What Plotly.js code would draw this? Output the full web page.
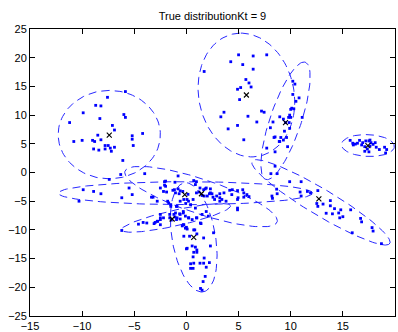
<!DOCTYPE html>
<html>
<head>
<meta charset="utf-8">
<script src="https://cdn.plot.ly/plotly-3.0.1.min.js"></script>
<style>html,body{margin:0;padding:0;background:#fff;}#chart{width:398px;height:332px;}</style>
</head>
<body>
<div id="chart"></div>
<script>
// ---- data points by cluster ----
const ax = [-5.85,-7.57,-8.7,-8.2,-9.9,-6.0,-5.85,-8.3,-11.2,-7.1,-6.9,-4.2,-8.5,-5.2,-5.2,-8.2,-9.0,-10.8,-10.0,-8.8,-5.1,-7.8,-7.5,-7.3,-6.9,-7.8,-8.9,-8.4,-7.2,-6.1];
const ay = [14.1,13.1,11.7,11.6,10.4,10.1,9.6,9.4,8.7,8.2,7.4,6.8,6.5,6.4,5.8,5.7,5.6,5.4,5.6,5.4,4.7,4.7,4.7,4.25,4.4,4.1,4.1,3.9,3.7,2.1];

const bx = [5.0,6.4,7.7,4.25,5.4,6.4,1.7,5.7,6.0,6.2,5.2,4.9,5.1,3.6,3.3,5.9,7.2,7.45,6.75,4.9,4.0,5.5];
const by = [20.5,20.3,20.5,19.3,18.8,18.0,17.6,16.2,15.6,14.9,14.8,14.5,12.7,10.5,9.7,9.8,10.7,10.5,8.8,8.2,7.6,5.7];

const cxs = [10.2,10.4,10.2,10.8,10.5,10.1,10.0,10.3,9.9,9.8,10.0,11.1,8.95,9.3,8.3,9.85,9.5,9.9,8.05,9.4,8.4,9.05,9.6,9.3,8.95,9.7,8.5,8.9,7.7,8.5,8.5,8.1,8.7];
const cys = [15.9,15.4,13.6,13.0,12.4,11.2,11.0,11.1,10.0,9.6,9.6,9.6,9.7,9.3,8.8,8.7,8.7,7.7,7.8,7.2,6.1,6.1,6.1,5.65,5.4,4.5,6.2,5.4,4.25,3.6,1.1,-0.2,-0.2];

const dxs = [15.7,15.95,16.2,16.4,16.6,16.9,17.2,17.5,17.7,17.6,18.1,17.1,17.35,17.6,17.1,17.5,18.2,18.5,19.0,19.2,19.1,16.0,16.8,17.9];
const dys = [5.6,5.1,4.95,5.1,5.6,5.2,5.5,5.5,5.2,5.65,5.2,4.5,4.1,4.6,3.7,3.6,4.4,4.0,4.4,4.0,3.4,4.8,4.8,4.9];

const exs = [9.9,11.0,11.6,11.9,12.6,10.9,11.0,12.5,12.6,13.1,13.8,13.8,14.2,14.8,13.4,14.0,14.6,15.0,14.7,15.75,16.7,16.8,15.9,17.8,17.9,18.7,8.7,8.25,8.65];
const eys = [-1.6,-1.6,-3.3,-3.55,-3.15,-3.4,-4.1,-5.4,-5.9,-5.5,-4.9,-5.8,-6.3,-6.5,-7.1,-7.2,-7.05,-7.7,-7.9,-6.5,-8.0,-8.6,-10.5,-9.6,-10.2,-12.4,-3.7,-4.5,-2.9];

const fxs = [-9.9,-8.9,-8.2,-5.5,-5.2,-6.2,-10.3,-2.5,-2.2,-1.9,-1.3,-1.05,-0.7,-0.35,-0.8,0.15,-3.35,-3.2,-2.8,-1.7,-1.5,-0.9,-0.07,-2.0,-2.0,-1.15,-0.6,-1.8,-1.5,-0.96,-0.25,0.2,0.06,-4.0,-6.3,-7.4,-0.8,-2.1,-2.1,-1.1,-0.6];
const fys = [-3.0,-3.3,-3.7,-2.7,-3.85,-4.4,-5.0,-2.7,-3.3,-3.4,-3.1,-3.55,-3.7,-3.3,-2.85,-3.8,-4.3,-4.3,-5.0,-5.3,-5.6,-5.9,-5.4,-1.5,-2.4,-3.0,-5.0,-5.0,-5.9,-5.9,-4.7,-5.0,-4.7,-0.2,-0.35,-1.2,-0.6,-1.6,-2.2,-1.7,-3.2];

const gxs = [0.7,0.96,1.3,1.65,1.9,2.3,0.96,1.2,1.5,1.7,2.0,2.2,2.45,2.55,2.7,3.2,3.6,3.2,3.2,3.8,4.15,4.35,4.9,5.4,4.95,5.5,6.0,4.9,0.64,0.4,0.86,0.86,1.8,2.3,2.9,3.4,4.4,4.9,5.5,5.8,8.2,4.9];
const gys = [-1.4,-1.6,-2.7,-3.0,-2.7,-2.85,-3.55,-3.4,-4.0,-4.1,-4.1,-3.7,-3.7,-4.3,-4.7,-3.7,-3.55,-4.4,-5.0,-5.0,-3.1,-3.85,-3.15,-3.0,-4.4,-4.3,-4.2,-6.2,-4.7,-5.6,-6.2,-2.1,-2.85,-3.55,-4.1,-4.7,-3.0,-4.7,-3.55,-3.85,-4.1,-6.5];

const hxs = [-1.6,-1.6,-1.1,-0.95,-1.45,-0.6,-1.05,-0.3,-0.1,0.2,-2.5,-2.8,-3.1,-3.8,-4.15,-4.6,-6.2,-2.5,-2.2,-2.5,-0.9,-0.6,0.22,0.55,0.96,1.5,1.9,2.1,-2.5,-3.0,-2.75,-1.2,-0.65,-0.3];
const hys = [-7.3,-7.9,-7.75,-8.2,-8.3,-8.1,-7.05,-7.05,-7.6,-7.9,-7.9,-8.5,-8.9,-8.8,-8.7,-9.0,-10.1,-7.3,-7.9,-8.2,-7.9,-7.3,-7.9,-8.2,-7.9,-7.3,-6.8,-7.6,-9.1,-8.7,-8.5,-7.3,-7.2,-6.8];

const ixs = [-0.4,-0.1,-0.25,0.0,0.7,1.34,1.4,1.0,-0.3,0.07,-0.25,1.0,1.65,0.3,2.6,0.55,0.0,0.86,1.0,2.3,0.7,1.0,0.64,1.7,1.3,0.4,2.2,0.64,1.9,1.6,1.8,1.35,1.5,0.8,0.07,0.7,0.4,1.65];
const iys = [-9.3,-9.7,-9.1,-9.55,-10.0,-8.8,-8.9,-7.9,-9.1,-9.85,-11.1,-10.7,-11.4,-11.1,-10.5,-12.8,-13.3,-13.0,-13.5,-12.8,-13.9,-13.9,-14.7,-14.9,-15.8,-15.9,-15.7,-16.7,-16.5,-19.0,-18.1,-20.2,-20.5,-10.0,-13.2,-15.8,-16.7,-15.8];

// ---- component means (x markers) ----
const muX = [-7.4, 5.75, 9.5, 17.4, 12.7, -0.16, 1.44, -1.37, 0.7];
const muY = [6.5, 13.5, 8.7, 4.7, -4.6, -3.85, -3.7, -8.1, -11.3];

// ---- ellipse parameters (centre, semi-axes, angle in degrees) ----
const ellCx = [-7.4, 5.75, 9.5, 17.4, 12.9, -0.1, 1.4, -1.0, 0.7];
const ellCy = [6.6, 13.5, 9.0, 4.7, -5.2, -3.6, -4.2, -7.9, -11.3];
const ellA  = [7.7, 10.8, 10.4, 2.55, 9.8, 12.2, 8.6, 5.65, 9.55];
const ellB  = [4.9, 4.6, 1.55, 1.9, 1.8, 2.0, 2.7, 1.3, 2.1];
const ellAng = [90, 93.4, 80, -8, -48.5, 0, -33.6, 22.9, -85.2];

const allX = [].concat(ax,bx,cxs,dxs,exs,fxs,gxs,hxs,ixs);
const allY = [].concat(ay,by,cys,dys,eys,fys,gys,hys,iys);

const traces = [];
for (let k = 0; k < ellCx.length; k++) {
  const th = ellAng[k] * Math.PI / 180;
  const xs = [], ys = [];
  for (let i = 0; i <= 120; i++) {
    const t = 2 * Math.PI * i / 120;
    const u = ellA[k] * Math.cos(t), v = ellB[k] * Math.sin(t);
    xs.push(ellCx[k] + u * Math.cos(th) - v * Math.sin(th));
    ys.push(ellCy[k] + u * Math.sin(th) + v * Math.cos(th));
  }
  traces.push({x: xs, y: ys, mode: 'lines', type: 'scatter', hoverinfo: 'skip',
    line: {color: 'rgb(40,40,255)', width: 1, dash: '8px,5px'}, showlegend: false});
}
traces.push({x: allX, y: allY, mode: 'markers', type: 'scatter', showlegend: false,
  marker: {color: '#0000ff', size: 2.8, symbol: 'square'}});
traces.push({x: muX, y: muY, mode: 'markers', type: 'scatter', showlegend: false,
  marker: {color: '#000', size: 5, symbol: 'x-thin', line: {color: '#000', width: 1.1}}});

const axisStyle = {
  showgrid: false, zeroline: false, showline: true, linecolor: '#000', linewidth: 1,
  mirror: 'ticks', ticks: 'inside', ticklen: 5, tickcolor: '#000', tickwidth: 1,
  tickfont: {family: 'Liberation Sans, Arial, sans-serif', size: 11, color: '#000'}
};

const layout = {
  width: 398, height: 332,
  margin: {l: 30, r: 3, t: 29, b: 16},
  paper_bgcolor: '#fff', plot_bgcolor: '#fff',
  title: {text: 'True distributionKt = 9', x: 0.5, xref: 'paper', y: 0.952, yref: 'container', yanchor: 'middle',
    font: {family: 'Liberation Sans, Arial, sans-serif', size: 11, color: '#000'}},
  xaxis: Object.assign({range: [-15, 20], dtick: 5, tick0: 0}, axisStyle),
  yaxis: Object.assign({range: [-25, 25], dtick: 5, tick0: 0}, axisStyle),
  showlegend: false
};

Plotly.newPlot('chart', traces, layout, {staticPlot: true, displayModeBar: false});
</script>
</body>
</html>
